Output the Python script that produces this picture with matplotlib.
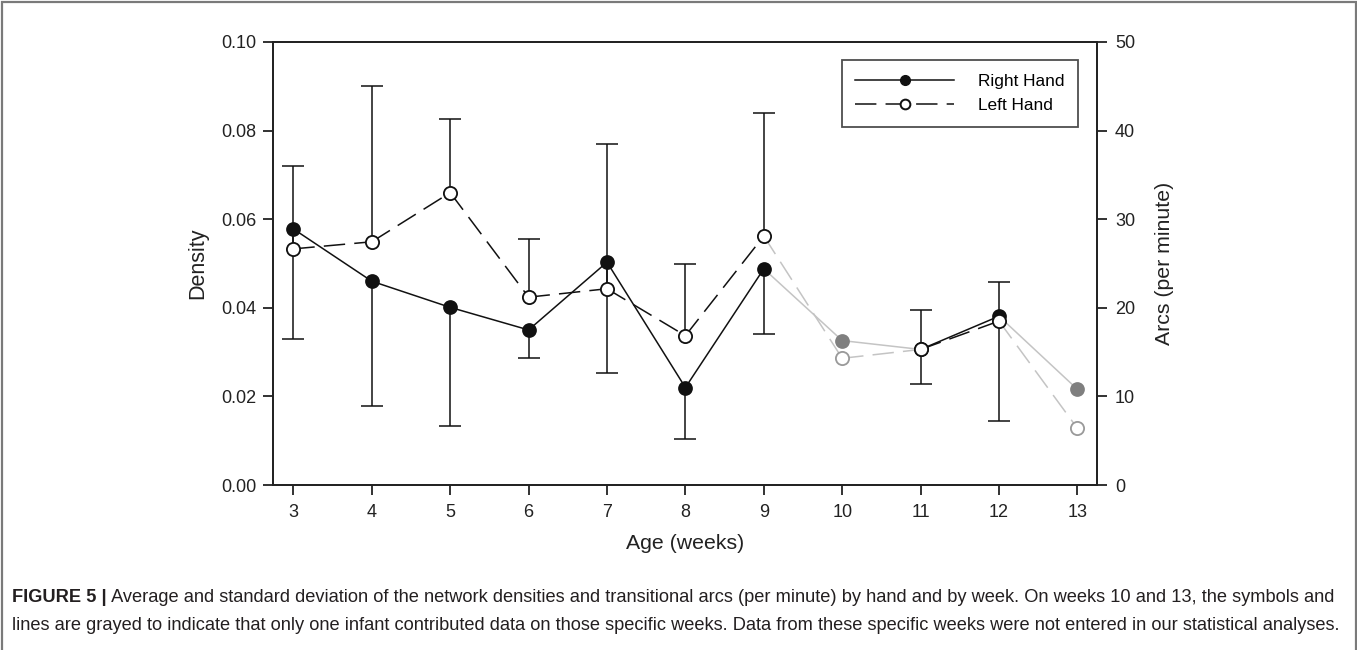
import numpy as np
import matplotlib
matplotlib.use("Agg")
import matplotlib.pyplot as plt
from matplotlib.lines import Line2D
from matplotlib.patches import Rectangle

plt.rcParams['font.family'] = ['Liberation Sans', 'DejaVu Sans']

weeks = [3, 4, 5, 6, 7, 8, 9, 10, 11, 12, 13]
gray_weeks = [10, 13]
right_mean = [0.0578, 0.0460, 0.0401, 0.0350, 0.0503, 0.0220, 0.0488, 0.0326, 0.0306, 0.0381, 0.0216]
right_sd = [0.0248, 0.0281, 0.0268, 0.0063, 0.0251, 0.0116, 0.0147, np.nan, 0.0077, 0.0237, np.nan]
left_mean = [0.0533, 0.0549, 0.0660, 0.0424, 0.0443, 0.0337, 0.0562, 0.0286, 0.0306, 0.0370, 0.0128]
left_sd = [0.0187, 0.0352, 0.0166, 0.0131, 0.0326, 0.0163, 0.0277, np.nan, 0.0088, 0.0088, np.nan]

x_ticks = list(range(3, 14))
left_ticks = [0.00, 0.02, 0.04, 0.06, 0.08, 0.10]
right_ticks = [0, 10, 20, 30, 40, 50]

BLACK = '#111111'
LGRAY = '#c4c4c4'
MGRAY = '#7f7f7f'
OGRAY = '#9a9a9a'
TXT = '#222222'

fig = plt.figure(figsize=(13.57, 6.5), dpi=100)
ax = fig.add_axes([273/1357, 1-485/650, (1097-273)/1357, (485-42)/650])

w = np.array(weeks)
rm = np.array(right_mean); rs = np.array(right_sd)
lm = np.array(left_mean); ls = np.array(left_sd)
isgray = np.isin(w, gray_weeks)

lw = 1.1
cap = 5.5
# error bars: right hand downward, left hand upward
ok = ~np.isnan(rs)
ax.vlines(w[ok], rm[ok] - rs[ok], rm[ok], color=BLACK, lw=lw, zorder=2)
ax.plot(w[ok], rm[ok] - rs[ok], ls='none', marker='_', ms=2*cap*1.4, mew=lw, color=BLACK, zorder=2)
ok = ~np.isnan(ls)
ax.vlines(w[ok], lm[ok], lm[ok] + ls[ok], color=BLACK, lw=lw, zorder=2)
ax.plot(w[ok], lm[ok] + ls[ok], ls='none', marker='_', ms=2*cap*1.4, mew=lw, color=BLACK, zorder=2)

dash = (14, 6)
def draw_runs(vals, dashed, z):
    for i in range(len(w) - 1):
        g = isgray[i] or isgray[i+1]
        kw = dict(color=LGRAY if g else BLACK, lw=lw, zorder=z)
        ln, = ax.plot(w[i:i+2], vals[i:i+2], **kw)
        if dashed:
            ln.set_dashes(dash)

draw_runs(rm, False, 3)
draw_runs(lm, True, 3)

ms = 9.5
ax.plot(w[~isgray], rm[~isgray], ls='none', marker='o', ms=ms, mfc=BLACK, mec=BLACK, mew=lw, zorder=4)
ax.plot(w[isgray], rm[isgray], ls='none', marker='o', ms=ms, mfc=MGRAY, mec=MGRAY, mew=lw, zorder=4)
ax.plot(w[~isgray], lm[~isgray], ls='none', marker='o', ms=ms, mfc='white', mec=BLACK, mew=lw*1.2, zorder=5)
ax.plot(w[isgray], lm[isgray], ls='none', marker='o', ms=ms, mfc='white', mec=OGRAY, mew=lw*1.2, zorder=5)

ax.set_xlim(2.74, 13.25)
ax.set_ylim(0, 0.10)
ax.set_xticks(x_ticks)
ax.set_yticks(left_ticks)
ax.set_yticklabels([f"{t:.2f}" for t in left_ticks])
for s in ax.spines.values():
    s.set_linewidth(1.3)
    s.set_color(TXT)
ax.tick_params(axis='both', direction='out', length=7, width=1.3, labelsize=13, colors=TXT, pad=5)
ax.tick_params(axis='x', pad=7)
ax.set_ylabel('Density', fontsize=15.5, labelpad=9, color=TXT)
ax.set_xlabel('Age (weeks)', fontsize=15.3, labelpad=9, color=TXT)

ax2 = ax.twinx()
ax2.set_ylim(0, 50)
ax2.set_yticks(right_ticks)
ax2.tick_params(axis='y', direction='out', length=7, width=1.3, labelsize=13, colors=TXT, pad=6)
for s in ax2.spines.values():
    s.set_linewidth(1.3)
    s.set_color(TXT)
ax2.set_ylabel('Arcs (per minute)', fontsize=15.3, labelpad=14, color=TXT)

h1 = Line2D([], [], color=BLACK, lw=lw, marker='o', ms=7, mfc=BLACK, mec=BLACK)
h2 = Line2D([], [], color=BLACK, lw=lw, marker='o', ms=7, mfc='white', mec=BLACK, mew=lw*1.3, dashes=dash)
leg = ax.legend([h1, h2], ['Right Hand', 'Left Hand'], loc='upper right',
                bbox_to_anchor=(1 - 19/824, 1 - 18/443), fontsize=12.4,
                handlelength=5.7, handletextpad=1.4, borderpad=0.8, labelspacing=0.55,
                fancybox=False, frameon=True, borderaxespad=0)
leg.get_frame().set_edgecolor(TXT)
leg.get_frame().set_linewidth(1.3)

# caption
cap_color = '#231f20'
cfs = 13.15
t1 = fig.text(12/1357, 1-602/650, 'FIGURE 5 |', fontsize=cfs, fontweight='bold', color=cap_color, va='baseline')
ax.annotate(' Average and standard deviation of the network densities and transitional arcs (per minute) by hand and by week. On weeks 10 and 13, the symbols and',
            xy=(1, 0), xycoords=t1, xytext=(0, 0), textcoords='offset points', va='bottom', ha='left',
            fontsize=cfs, color=cap_color, annotation_clip=False)
fig.text(12/1357, 1-630/650, 'lines are grayed to indicate that only one infant contributed data on those specific weeks. Data from these specific weeks were not entered in our statistical analyses.',
         fontsize=cfs, color=cap_color, va='baseline')

# outer frame
fig.add_artist(Rectangle((1.5/1357, -0.01), 1-3/1357, 1.01 - 1.5/650, transform=fig.transFigure,
                         fill=False, edgecolor='#7a7a7a', lw=1.6))

fig.savefig('out.png', dpi=100)
